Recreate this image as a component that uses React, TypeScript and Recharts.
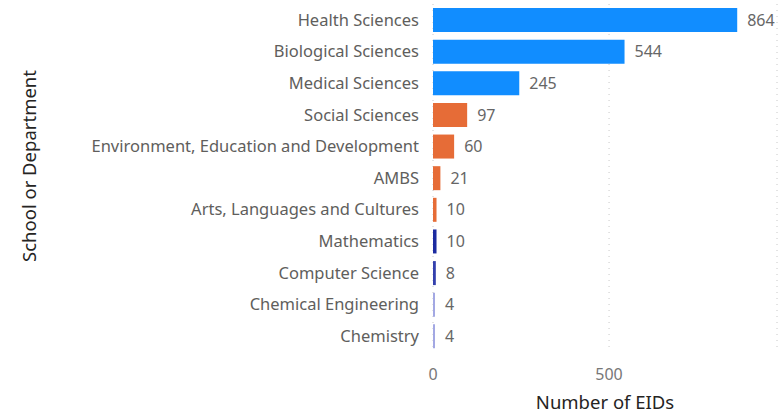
import { BarChart, Bar, XAxis, YAxis, CartesianGrid, Cell, LabelList } from 'recharts';

const departments = [
  'Health Sciences',
  'Biological Sciences',
  'Medical Sciences',
  'Social Sciences',
  'Environment, Education and Development',
  'AMBS',
  'Arts, Languages and Cultures',
  'Mathematics',
  'Computer Science',
  'Chemical Engineering',
  'Chemistry',
];

const eids = [864, 544, 245, 97, 60, 21, 10, 10, 8, 4, 4];

const barColors = [
  '#118DFF', '#118DFF', '#118DFF',
  '#E66C37', '#E66C37', '#E66C37', '#E66C37',
  '#1C2BA0', '#3440AD', '#A3A8E3', '#A3A8E3',
];

const xTicks = [0, 500];

const data = departments.map((name, i) => ({ name, value: eids[i] }));

const FONT = '"Segoe UI", "Noto Sans", sans-serif';

export default function App() {
  return (
    <div style={{ position: 'absolute', left: 0, top: 0, width: 779, height: 416, background: '#fff' }}>
      <BarChart
        width={779}
        height={416}
        data={data}
        layout="vertical"
        margin={{ top: 4, right: 2, bottom: 0, left: 0 }}
        barSize={24}
      >
        <CartesianGrid horizontal={false} stroke="#C8C8C8" strokeDasharray="1 5" />
        <XAxis
          type="number"
          domain={[0, 977]}
          ticks={xTicks}
          axisLine={false}
          tickLine={false}
          tickSize={0}
          tickMargin={17}
          height={64}
          tick={{ fill: '#777', fontSize: 16, fontFamily: FONT }}
          label={{
            content: () => (
              <text x={605} y={409} textAnchor="middle" fill="#252423" fontSize={18.5} fontFamily={FONT}>
                Number of EIDs
              </text>
            ),
          }}
        />
        <YAxis
          type="category"
          dataKey="name"
          width={433}
          axisLine={false}
          tickLine={false}
          tickSize={0}
          tickMargin={14}
          interval={0}
          tick={{ fill: '#605E5C', fontSize: 16.5, fontFamily: FONT }}
          label={{
            content: () => (
              <text
                x={36}
                y={166}
                textAnchor="middle"
                fill="#252423"
                fontSize={18.5}
                fontFamily={FONT}
                transform="rotate(-90 36 166)"
              >
                School or Department
              </text>
            ),
          }}
        />
        <Bar dataKey="value" isAnimationActive={false} minPointSize={2}>
          {data.map((d, i) => (
            <Cell key={d.name} fill={barColors[i]} />
          ))}
          <LabelList dataKey="value" position="right" offset={10} fill="#666" fontSize={16} fontFamily={FONT} />
        </Bar>
      </BarChart>
    </div>
  );
}
